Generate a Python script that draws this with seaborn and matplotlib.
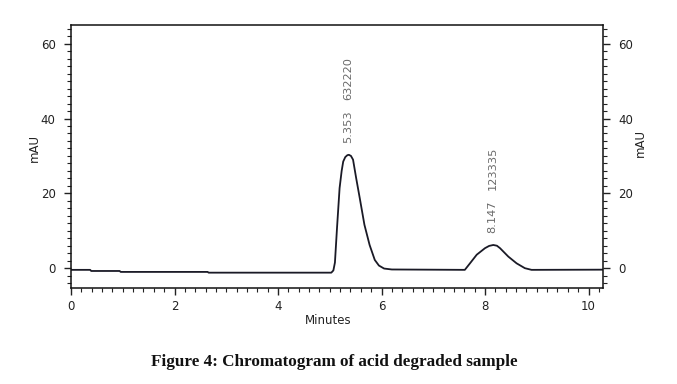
import matplotlib
matplotlib.use("Agg")
import matplotlib.pyplot as plt
from matplotlib.ticker import MultipleLocator
import seaborn as sns
import pandas as pd

# ---- data ----
minutes = [0.00, 0.37, 0.39, 0.94, 0.96, 2.64, 2.66, 5.03, 5.07, 5.10, 5.14,
           5.19, 5.23, 5.26, 5.30, 5.34, 5.37, 5.41, 5.45, 5.51, 5.58, 5.67,
           5.77, 5.87, 5.95, 6.05, 6.20, 7.61, 7.71, 7.84, 8.00, 8.08, 8.16,
           8.23, 8.29, 8.45, 8.61, 8.77, 8.90, 10.28]
mau = [-0.45, -0.45, -0.75, -0.75, -1.00, -1.00, -1.20, -1.20, -0.6, 1.5,
       10.7, 21.4, 26.0, 28.5, 29.7, 30.2, 30.3, 30.0, 29.0, 24.1, 18.7,
       11.6, 6.2, 2.2, 0.7, -0.1, -0.35, -0.45, 1.3, 3.6, 5.35, 5.95, 6.2,
       6.0, 5.35, 3.1, 1.3, 0.0, -0.45, -0.4]

peak_rt = [5.353, 8.147]
peak_height = [30.3, 6.2]
peak_area = ["632220", "123335"]

x_ticks = [0, 2, 4, 6, 8, 10]
y_ticks = [0, 20, 40, 60]

df = pd.DataFrame({"Minutes": minutes, "mAU": mau})

sns.set_style("ticks")
plt.rcParams["font.family"] = ["DejaVu Sans"]

fig = plt.figure(figsize=(6.77, 3.84), dpi=100)
ax = fig.add_axes([71 / 677, 96 / 384, 532 / 677, 263 / 384])

sns.lineplot(data=df, x="Minutes", y="mAU", ax=ax, estimator=None, sort=False,
             color="#1a1a26", linewidth=1.3)

ax.set_xlim(0, 10.28)
ax.set_ylim(-5.3, 65)
ax.set_xticks(x_ticks)
ax.set_yticks(y_ticks)
ax.xaxis.set_minor_locator(MultipleLocator(0.2))
ax.yaxis.set_minor_locator(MultipleLocator(2))
ax.tick_params(axis="both", which="major", length=5, width=1.0,
               labelsize=8.5, colors="#222222", direction="out")
ax.tick_params(axis="both", which="minor", length=3, width=0.8,
               colors="#222222", direction="out")
ax.tick_params(axis="y", which="both", right=True, labelright=True)
ax.tick_params(axis="x", which="major", pad=4)
ax.tick_params(axis="y", which="major", pad=6)
for s in ax.spines.values():
    s.set_visible(True)
    s.set_color("#111111")
    s.set_linewidth(1.1)

ax.set_xlabel("")
ax.set_ylabel("")
ax.text(-0.068, 0.532, "mAU", transform=ax.transAxes, rotation=90,
        ha="center", va="center", fontsize=8.5, color="#222222")
ax.text(1.07, 0.551, "mAU", transform=ax.transAxes, rotation=90,
        ha="center", va="center", fontsize=8.5, color="#222222")
fig.text(328 / 677, 1 - 321 / 384, "Minutes", ha="center", va="center",
         fontsize=8.5, color="#222222")

for rt, h, area in zip(peak_rt, peak_height, peak_area):
    ax.text(rt, h + 3.2, f"{rt:.3f}", rotation=90, ha="center", va="bottom",
            fontsize=8.2, color="#6a6a6a")
    ax.text(rt, h + 14.7, area, rotation=90, ha="center", va="bottom",
            fontsize=8.2, color="#6a6a6a")

fig.text(334 / 677, 1 - 362 / 384, "Figure 4: Chromatogram of acid degraded sample",
         ha="center", va="center", fontsize=12.3, fontweight="bold",
         family=["Liberation Serif", "DejaVu Serif"], color="#111111")

fig.savefig("out.png", dpi=100)
